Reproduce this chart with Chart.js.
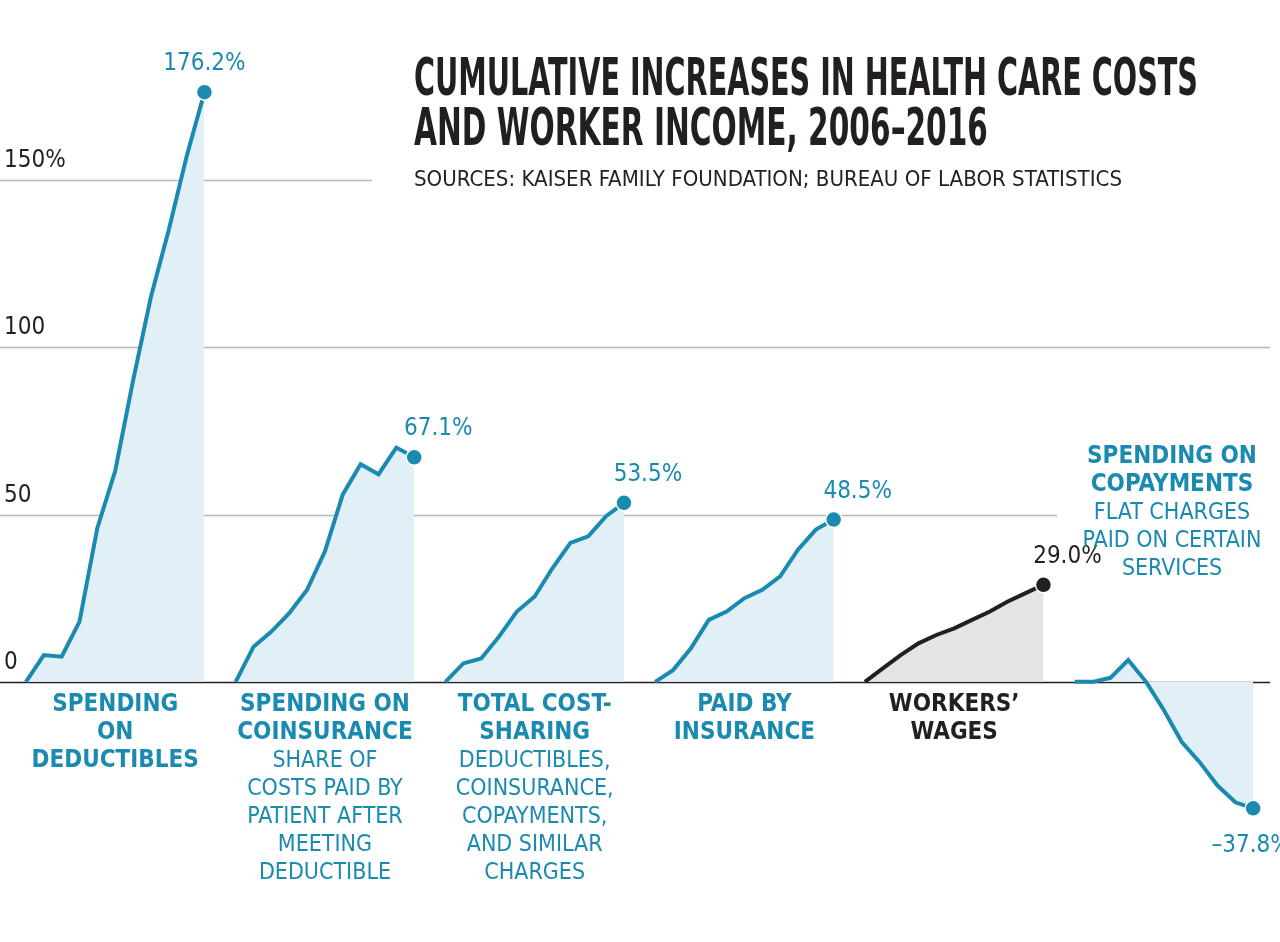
<!DOCTYPE html>
<html>
<head>
<meta charset="utf-8">
<script src="https://cdn.jsdelivr.net/npm/chart.js@4"></script>
<style>
  html, body { margin: 0; padding: 0; background: #fff; }
  #wrap { position: relative; width: 1280px; height: 942px; }
</style>
</head>
<body>
<div id="wrap"><canvas id="myChart" width="1280" height="942"></canvas></div>
<script>
// values, 2006..2016, cumulative % change
var years       = [2006, 2007, 2008, 2009, 2010, 2011, 2012, 2013, 2014, 2015, 2016];
var deductibles = [0, 8, 7.5, 18, 46, 63, 90, 115, 135, 157, 176.2];
var coinsurance = [0, 10.5, 15, 20.5, 27.5, 39, 56, 65, 62, 70, 67.1];
var costSharing = [0, 5.5, 7, 13.5, 21, 25.5, 34, 41.5, 43.5, 49.5, 53.5];
var insurance   = [0, 3.5, 10, 18.5, 21, 25, 27.5, 31.5, 39.5, 45.5, 48.5];
var wages       = [0, 4, 8, 11.5, 14, 16, 18.5, 21, 24, 26.5, 29.0];
var copayments  = [0, 0, 1.2, 6.5, 0, -8.5, -18, -24, -31, -36, -37.8];
var endLabels   = ['176.2%', '67.1%', '53.5%', '48.5%', '29.0%', '\u201337.8%'];
var tickValues  = [0, 50, 100, 150];
var tickLabels  = ['0', '50', '100', '150%'];

var series = [deductibles, coinsurance, costSharing, insurance, wages, copayments];
var labelLines = [
  [['SPENDING', 1], ['ON', 1], ['DEDUCTIBLES', 1]],
  [['SPENDING ON', 1], ['COINSURANCE', 1], ['SHARE OF', 0], ['COSTS PAID BY', 0], ['PATIENT AFTER', 0], ['MEETING', 0], ['DEDUCTIBLE', 0]],
  [['TOTAL COST-', 1], ['SHARING', 1], ['DEDUCTIBLES,', 0], ['COINSURANCE,', 0], ['COPAYMENTS,', 0], ['AND SIMILAR', 0], ['CHARGES', 0]],
  [['PAID BY', 1], ['INSURANCE', 1]],
  [['WORKERS\u2019', 1], ['WAGES', 1]],
  []
];

var BLUE = '#1b8ab0', FILL = '#e1eff6', DARK = '#231f20', GREYFILL = '#e4e4e4';
var START = 1.52, GAP = 11.75;
var FAM = '"Liberation Sans Narrow", "DejaVu Sans Condensed", sans-serif';
var BOLD = 'bold 24px ' + FAM;
var REG = '23px ' + FAM;

var datasets = series.map(function(vals, g) {
  var isW = g === 4;
  return {
    data: vals.map(function(v, i) { return { x: START + g * GAP + i, y: v }; }),
    borderColor: isW ? DARK : BLUE,
    backgroundColor: isW ? GREYFILL : FILL,
    fill: 'origin',
    borderWidth: 4,
    tension: 0,
    pointRadius: vals.map(function(v, i) { return i === vals.length - 1 ? 8 : 0; }),
    pointBackgroundColor: isW ? DARK : BLUE,
    pointBorderColor: '#fff',
    pointBorderWidth: 1.5,
    clip: false
  };
});

function fitText(c, txt, x, y, w) {
  var m = c.measureText(txt).width;
  c.save();
  c.translate(x, y);
  c.scale(w / m, 1);
  c.fillText(txt, 0, 0);
  c.restore();
}

var gridPlugin = {
  id: 'grid',
  beforeDatasetsDraw: function(chart) {
    var c = chart.ctx, ys = chart.scales.y;
    var ends = { 0: 1270, 50: 1057, 100: 1270, 150: 372 };
    c.save();
    tickValues.forEach(function(t, k) {
      var y = Math.round(ys.getPixelForValue(t)) + 0.5;
      c.strokeStyle = t === 0 ? DARK : '#b8b8b8';
      c.lineWidth = 1.5;
      c.beginPath(); c.moveTo(0, y); c.lineTo(ends[t], y); c.stroke();
      c.fillStyle = DARK;
      c.font = '24px ' + FAM;
      c.textBaseline = 'bottom';
      c.fillText(tickLabels[k], 4, y - 8);
    });
    c.restore();
  },
  afterDatasetsDraw: function(chart) {
    var c = chart.ctx;
    c.save();
    series.forEach(function(vals, g) {
      var pts = chart.getDatasetMeta(g).data;
      var last = pts[pts.length - 1];
      c.fillStyle = g === 4 ? DARK : BLUE;
      c.font = '24px ' + FAM;
      c.textAlign = 'center';
      c.textBaseline = 'alphabetic';
      if (g === 0) c.fillText(endLabels[g], last.x - 0, last.y - 22);
      else if (g === 5) c.fillText(endLabels[g], last.x - 2, last.y + 44);
      else c.fillText(endLabels[g], last.x + 24, last.y - 22);
      var cx = (pts[0].x + last.x) / 2;
      var y = 705;
      labelLines[g].forEach(function(l) {
        c.font = l[1] ? BOLD : REG;
        c.textBaseline = 'middle';
        c.fillText(l[0], cx, y);
        y += 28;
      });
    });
    c.fillStyle = BLUE;
    c.textAlign = 'center';
    c.textBaseline = 'middle';
    [['SPENDING ON', 1], ['COPAYMENTS', 1], ['FLAT CHARGES', 0], ['PAID ON CERTAIN', 0], ['SERVICES', 0]].forEach(function(l, k) {
      c.font = l[1] ? BOLD : REG;
      c.fillText(l[0], 1172, 457 + k * 28);
    });
    // title
    c.textAlign = 'left';
    c.textBaseline = 'alphabetic';
    c.fillStyle = DARK;
    c.font = 'bold 52px ' + FAM;
    fitText(c, 'CUMULATIVE INCREASES IN HEALTH CARE COSTS', 414, 95, 784);
    fitText(c, 'AND WORKER INCOME, 2006\u20132016', 414, 145, 574);
    c.font = '22px ' + FAM;
    fitText(c, 'SOURCES: KAISER FAMILY FOUNDATION; BUREAU OF LABOR STATISTICS', 414, 186, 708);
    c.restore();
  }
};

var ctx = document.getElementById('myChart');
var myChart = new Chart(ctx, {
  type: 'line',
  data: { datasets: datasets },
  options: {
    responsive: false,
    animation: false,
    layout: { padding: 0 },
    plugins: { legend: { display: false }, tooltip: { enabled: false } },
    scales: {
      x: { type: 'linear', min: 0.599, max: 71.24, display: false },
      y: { min: -74.9, max: 200.9, display: false }
    }
  },
  plugins: [gridPlugin]
});
</script>
</body>
</html>
